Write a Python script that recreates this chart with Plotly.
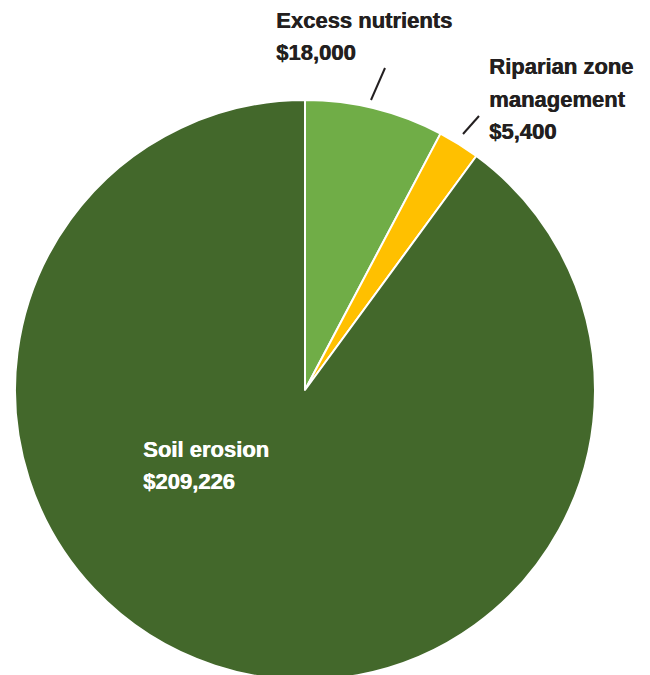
import plotly.graph_objects as go

# Slice data, clockwise from 12 o'clock
categories = ['Excess nutrients', 'Riparian zone management', 'Soil erosion']
label_lines = [['Excess nutrients'], ['Riparian zone', 'management'], ['Soil erosion']]
values = [18000, 5400, 209226]
colors = ['#70AD47', '#FFC000', '#43682B']

W, H = 650, 675
OFF = 8  # page body margin


def px(x, y):
    # screen pixel position -> paper coordinates
    return (x - OFF) / W, 1 - (y - OFF) / H


fig = go.Figure()

fig.add_trace(go.Pie(
    labels=categories,
    values=values,
    sort=False,
    direction='clockwise',
    rotation=0,
    marker=dict(colors=colors, line=dict(color='white', width=2)),
    textinfo='none',
    hoverinfo='label+value',
    showlegend=False,
    domain=dict(x=[(15 - OFF) / W, (595 - OFF) / W],
                y=[1 - (680 - OFF) / H, 1 - (100 - OFF) / H]),
))

# Label placement (left x, first line centre y, colour) in pixels
label_pos = [
    (274, 20, '#231F20'),
    (487, 67, '#231F20'),
    (141, 449, 'white'),
]
line_step = 32
font = dict(family='Liberation Sans, Arial, sans-serif', size=22, weight='bold')

for lines, val, (lx, ly, col) in zip(label_lines, values, label_pos):
    texts = lines + ['${:,}'.format(val)]
    for i, t in enumerate(texts):
        x, y = px(lx, ly + i * line_step)
        fig.add_annotation(
            x=x, y=y, xref='paper', yref='paper',
            text=t, showarrow=False,
            xanchor='left', yanchor='middle',
            font=dict(font, color=col, shadow='0.6px 0px 0px ' + col),
        )

# Leader lines
leaders = [((385, 68), (371, 100)), ((479, 116), (463, 134))]
for (x0, y0), (x1, y1) in leaders:
    a0, b0 = px(x0, y0)
    a1, b1 = px(x1, y1)
    fig.add_shape(type='line', xref='paper', yref='paper',
                  x0=a0, y0=b0, x1=a1, y1=b1,
                  line=dict(color='#231F20', width=2))

fig.update_layout(
    width=W,
    height=H,
    margin=dict(l=0, r=0, t=0, b=0),
    paper_bgcolor='white',
    plot_bgcolor='white',
)

fig.write_html("out.html")
